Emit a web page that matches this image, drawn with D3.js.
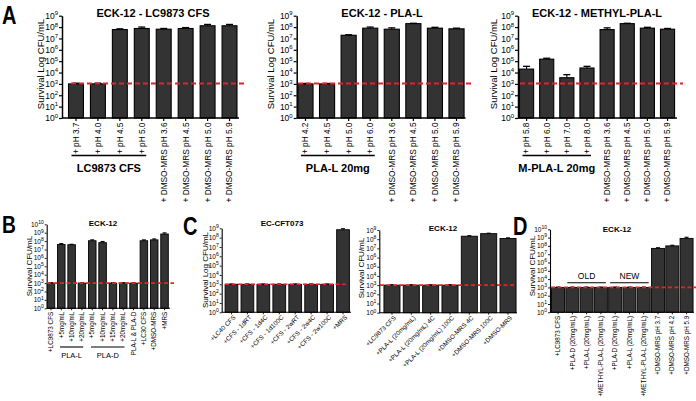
<!DOCTYPE html>
<html><head><meta charset="utf-8">
<script src="https://cdn.jsdelivr.net/npm/d3@7"></script>
<style>
body{margin:0;background:#fff;}
svg{display:block;font-family:"Liberation Sans",Arial,sans-serif;}
text{fill:#000;}
</style></head><body>
<svg id="chart" width="696" height="401"></svg>
<script>
// ---------------- DATA ----------------
const dmsoA = ["+ DMSO-MRS pH 3.6","+ DMSO-MRS pH 4.5","+ DMSO-MRS pH 5.0","+ DMSO-MRS pH 5.9"];
const catsA1 = ["+ pH 3.7","+ pH 4.0","+ pH 4.5","+ pH 5.0"].concat(dmsoA);
const valsA1 = [1000,1000,6e7,7.5e7,6.5e7,7.5e7,1.3e8,1.3e8];
const hiA1   = [1150,1150,7e7,1e8,7.5e7,9e7,1.7e8,1.7e8];
const catsA2 = ["+ pH 4.2","+ pH 4.5","+ pH 5.0","+ pH 6.0"].concat(dmsoA);
const valsA2 = [1000,1000,1.9e7,8e7,6.5e7,2e8,8e7,7e7];
const hiA2   = [1100,1100,2.1e7,1e8,8.5e7,2.15e8,9.5e7,8e7];
const catsA3 = ["+ pH 5.8","+ pH 6.0","+ pH 7.0","+ pH 8.0"].concat(dmsoA);
const valsA3 = [2e4,1.5e5,3.5e3,2.5e4,6e7,2e8,8e7,6.5e7];
const hiA3   = [3.5e4,1.8e5,6.5e3,3.5e4,8.5e7,2.15e8,9.5e7,7.5e7];
const catsB  = ["+LC9873 CFS","+5mg/mL","+10mg/mL","+20mg/mL","+5mg/mL","+10mg/mL","+15mg/mL","+20mg/mL","PLA-L & PLA-D","+LC30 CFS","+DMSO-MRS","+MRS"];
const valsB  = [1000,4e7,3.7e7,1000,1.1e8,6.5e7,1000,1000,1000,1.1e8,1.4e8,7e8];
const hiB    = [1100,5e7,4.2e7,1100,1.4e8,9e7,1100,1100,1100,1.4e8,1.8e8,9.5e8];
const catsC1 = ["+LC40 CFS","+CFS - 1dRT","+CFS - 1d4C","+CFS - 1d100C","+CFS - 2wRT","+CFS - 2w4C","+CFS - 2w100C","+MRS"];
const valsC1 = [1000,1000,1000,1000,1000,1000,1000,7e8];
const hiC1   = [1100,1100,1100,1100,1100,1100,1100,9e8];
const catsC2 = ["+LC9873 CFS","+PLA-L (20mg/mL)","+PLA-L (20mg/mL) 4C","+PLA-L (20mg/mL) 100C","+DMSO-MRS 4C","+DMSO-MRS 100C","+DMSO-MRS"];
const valsC2 = [1000,1000,1000,1000,2.1e8,4e8,1.2e8];
const hiC2   = [1100,1100,1100,1100,2.4e8,4.5e8,1.4e8];
const catsD  = ["+LC9873 CFS","+PLA-D (20mg/mL)","+PLA-L (20mg/mL)","+METHYL-PLA-L (20mg/mL)","+PLA-D (20mg/mL)","+PLA-L (20mg/mL)","+METHYL-PLA-L (20mg/mL)","+DMSO-MRS pH 3.7","+DMSO-MRS pH 4.2","+DMSO-MRS pH 5.9"];
const valsD  = [1000,1000,1000,1000,1000,1000,1000,5e7,1e8,8e8];
const hiD    = [1100,1100,1100,1100,1100,1100,1100,6e7,1.2e8,1.1e9];
const titles = ["ECK-12 - LC9873 CFS","ECK-12 - PLA-L","ECK-12 - METHYL-PLA-L","ECK-12","EC-CFT073","ECK-12","ECK-12"];
const yLabels = ["Survival  Log CFU/mL","Survival CFU/mL","Survival Log CFU/mL"];
const groupsA1 = [{text:"LC9873 CFS", from:0, to:3}];
const groupsA2 = [{text:"PLA-L 20mg", from:0, to:3}];
const groupsA3 = [{text:"M-PLA-L 20mg", from:0, to:3}];
const groupsB  = [{text:"PLA-L", from:1, to:3},{text:"PLA-D", from:4, to:7}];
const groupsD  = [{text:"OLD", from:1, to:3},{text:"NEW", from:4, to:6}];
const thresholdA = 1100, thresholdB = 1000;
const panelLetters = ["A","B","C","D"];

// ---------------- DRAWING ----------------
const svg = d3.select("#chart");
const big = {tick:8.5, sup:6, tickSize:3, tickPad:1, ylab:9.5, xlab:8.3, title:11, group:11, groupBold:true, axisW:1.5, barW:1.1, capW:7, dash:"5,3", redW:2};
const small = {tick:6.5, sup:5, tickSize:2, tickPad:1, ylab:8, xlab:6.3, title:8, group:7.5, groupBold:false, axisW:1.1, barW:0.9, capW:4, dash:"4,2.5", redW:1.6};

function drawPanel(d, L, S) {
  const g = svg.append("g");
  const n = d.cats.length;
  const y = d3.scaleLog().domain([1, Math.pow(10, L.maxExp)]).range([L.yBottom, L.yTop]);
  const x = d3.scaleBand().domain(d3.range(n)).range(L.xr).paddingInner(L.pad).paddingOuter(L.pad/2);
  const bw = x.bandwidth();

  // y axis
  const ya = g.append("g").attr("transform", `translate(${L.axisX},0)`)
    .call(d3.axisLeft(y).tickValues(d3.range(0, L.maxExp+1).map(e => Math.pow(10, e)))
      .tickSize(S.tickSize).tickPadding(S.tickPad).tickSizeOuter(0));
  ya.select(".domain").attr("stroke-width", S.axisW);
  ya.selectAll(".tick line").attr("stroke-width", S.axisW*0.8);
  ya.selectAll(".tick text").each(function(v){
    const t = d3.select(this);
    const e = Math.round(Math.log10(v));
    t.text(null).style("font-size", S.tick+"px").attr("fill","#000");
    t.append("tspan").text("10");
    t.append("tspan").attr("dy", -S.tick*0.42).style("font-size", S.sup+"px").text(e);
  });

  // bars
  g.selectAll("rect.bar").data(d.vals).join("rect")
    .attr("x", (v,i) => x(i)).attr("y", v => y(v))
    .attr("width", bw).attr("height", v => L.yBottom - y(v))
    .attr("fill", "#333333").attr("stroke", "#000").attr("stroke-width", S.barW);
  // error bars
  g.selectAll("line.err").data(d.vals).join("line")
    .attr("x1", (v,i) => x(i)+bw/2).attr("x2", (v,i) => x(i)+bw/2)
    .attr("y1", v => y(v)).attr("y2", (v,i) => y(d.hi[i]))
    .attr("stroke","#000").attr("stroke-width", S.barW);
  g.selectAll("line.cap").data(d.hi).join("line")
    .attr("x1", (h,i) => x(i)+bw/2-S.capW/2).attr("x2", (h,i) => x(i)+bw/2+S.capW/2)
    .attr("y1", h => y(h)).attr("y2", h => y(h))
    .attr("stroke","#000").attr("stroke-width", S.barW*1.2);

  // x axis
  const xa = g.append("g").attr("transform", `translate(0,${L.yBottom})`)
    .call(d3.axisBottom(x).tickSize(S.tickSize).tickSizeOuter(0).tickFormat(i => d.cats[i]));
  xa.select(".domain").remove();
  xa.selectAll(".tick line").attr("stroke-width", S.axisW*0.8);
  xa.append("line").attr("x1", L.axisX).attr("x2", L.axisEnd).attr("y1",0).attr("y2",0)
    .attr("stroke","#000").attr("stroke-width", S.axisW);
  const xt = xa.selectAll(".tick text").style("font-size", S.xlab+"px").attr("fill","#000");
  if (L.rot === -90) {
    xt.attr("text-anchor","end").attr("x",0).attr("y",0).attr("dy","0.35em")
      .attr("transform", `translate(0,${S.tickSize+L.labPad}) rotate(-90)`);
  } else {
    xt.attr("text-anchor","end").attr("x",0).attr("y",0).attr("dy","0.35em")
      .attr("transform", `translate(3,${S.tickSize+L.labPad}) rotate(-45)`);
  }

  // threshold line
  g.append("line").attr("x1", L.thrX[0]).attr("x2", L.thrX[1])
    .attr("y1", y(d.thr)).attr("y2", y(d.thr))
    .attr("stroke","#e8202a").attr("stroke-width", S.redW).attr("stroke-dasharray", S.dash);

  // title
  g.append("text").attr("x", L.titleX).attr("y", L.titleY).attr("text-anchor","middle")
    .attr("fill","#000").style("font-size", S.title+"px").style("font-weight","bold").text(d.title);
  // y label
  g.append("text").attr("transform", `translate(${L.ylabX},${L.ylabY}) rotate(-90)`)
    .attr("text-anchor","middle").attr("dy","0.35em").attr("fill","#000")
    .style("font-size", S.ylab+"px").text(d.ylabel);

  // groups
  (d.groups || []).forEach(gr => {
    const x1 = x(gr.from) + L.gInset, x2 = x(gr.to) + bw - L.gInset;
    g.append("line").attr("x1", x1).attr("x2", x2).attr("y1", L.gLineY).attr("y2", L.gLineY)
      .attr("stroke","#000").attr("stroke-width", S.axisW);
    g.append("text").attr("x", (x1+x2)/2).attr("y", L.gTextY).attr("text-anchor","middle")
      .attr("fill","#000")
      .style("font-size", (L.groupSize || S.group)+"px").style("font-weight", S.groupBold ? "bold" : "normal")
      .text(gr.text);
  });
}

const A = {maxExp:9, yTop:15.7, yBottom:118, rot:-90, labPad:1.5, gInset:3, gLineY:155.5, gTextY:172};
drawPanel({cats:catsA1, vals:valsA1, hi:hiA1, thr:thresholdA, title:titles[0], ylabel:yLabels[0], groups:groupsA1},
  Object.assign({}, A, {axisX:62, xr:[65,240.5], pad:0.32, axisEnd:239, thrX:[71,247], titleX:153, titleY:17, ylabX:40.5, ylabY:64}), big);
drawPanel({cats:catsA2, vals:valsA2, hi:hiA2, thr:thresholdA, title:titles[1], ylabel:yLabels[0], groups:groupsA2},
  Object.assign({}, A, {axisX:296.7, xr:[294.7,467.3], pad:0.3, axisEnd:465.5, thrX:[298,472], titleX:382, titleY:17, ylabX:270.5, ylabY:64}), big);
drawPanel({cats:catsA3, vals:valsA3, hi:hiA3, thr:thresholdA, title:titles[2], ylabel:yLabels[0], groups:groupsA3},
  Object.assign({}, A, {axisX:518, xr:[516.5,677.6], pad:0.3, axisEnd:677, thrX:[520,683], titleX:597, titleY:17, ylabX:494, ylabY:64}), big);

drawPanel({cats:catsB, vals:valsB, hi:hiB, thr:thresholdB, title:titles[3], ylabel:yLabels[1], groups:groupsB},
  {maxExp:10, yTop:224.3, yBottom:308.3, rot:-90, labPad:1.5, gInset:2.5, gLineY:347, gTextY:357.5,
   axisX:46.7, xr:[45.8,169.7], pad:0.27, axisEnd:170, thrX:[47,174], titleX:103, titleY:226, ylabX:29, ylabY:266}, small);
drawPanel({cats:catsC1, vals:valsC1, hi:hiC1, thr:thresholdB, title:titles[4], ylabel:yLabels[2]},
  {maxExp:9, yTop:228.3, yBottom:312.3, rot:-45, labPad:2,
   axisX:221.7, xr:[223.5,351], pad:0.2, axisEnd:351, thrX:[225,347], titleX:282, titleY:226, ylabX:205, ylabY:270}, small);
drawPanel({cats:catsC2, vals:valsC2, hi:hiC2, thr:thresholdB, title:titles[5], ylabel:yLabels[1]},
  {maxExp:9, yTop:230, yBottom:312.7, rot:-45, labPad:2,
   axisX:379.3, xr:[382.3,517.7], pad:0.17, axisEnd:517, thrX:[380,516], titleX:443, titleY:231, ylabX:361, ylabY:268}, small);
drawPanel({cats:catsD, vals:valsD, hi:hiD, thr:thresholdB, title:titles[6], ylabel:yLabels[1], groups:groupsD},
  {maxExp:10, yTop:229.3, yBottom:312.3, rot:-90, labPad:1.5, gInset:1.5, gLineY:282.7, gTextY:279, groupSize:8.5,
   axisX:550, xr:[550.9,693.7], pad:0.09, axisEnd:694, thrX:[551,696], titleX:617, titleY:232, ylabX:532.5, ylabY:266}, small);

// panel letters
const letterPos = [[2,23.5,25],[2,233,24],[183,235,25],[513,235,25]];
panelLetters.forEach((t,i) => {
  svg.append("text").attr("transform", `translate(${letterPos[i][0]},${letterPos[i][1]}) scale(0.8,1)`)
    .attr("fill","#000").style("font-size", letterPos[i][2]+"px").style("font-weight","bold").text(t);
});
</script>
</body></html>
